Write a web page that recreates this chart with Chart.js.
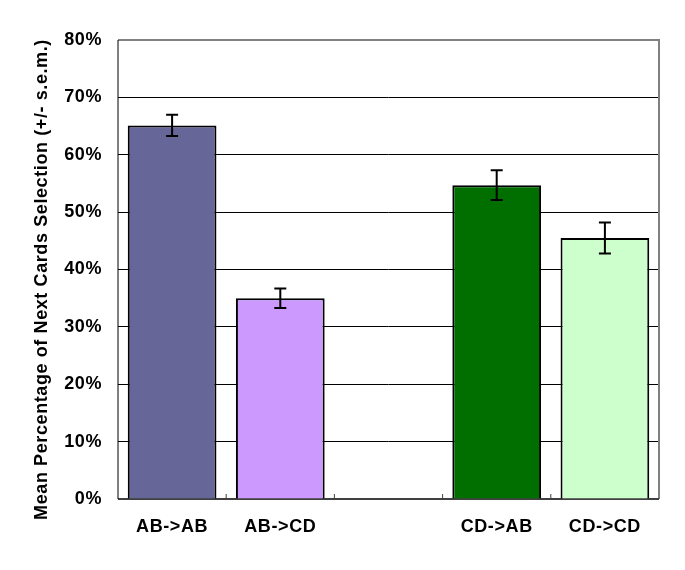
<!DOCTYPE html>
<html>
<head>
<meta charset="utf-8">
<script src="https://cdn.jsdelivr.net/npm/chart.js@4"></script>
<style>
  body { margin: 0; background: #fff; }
  #wrap { width: 685px; height: 570px; }
</style>
</head>
<body>
<div id="wrap"><canvas id="chart" width="685" height="570"></canvas></div>
<script>
// 数据
const categories = ['AB->AB', 'AB->CD', '', 'CD->AB', 'CD->CD'];
const meanValues = [65.1, 35, null, 54.7, 45.5];
const semValues = [1.85, 1.7, null, 2.6, 2.7];
const barColors = ['#666699', '#CC99FF', '#ffffff', '#006F00', '#CCFFCC'];
const yTicks = [0, 10, 20, 30, 40, 50, 60, 70, 80];
const yTitle = 'Mean Percentage of Next Cards Selection (+/- s.e.m.)';

const fontFamily = 'Liberation Sans, Arial, sans-serif';

// 字距（模仿原图较宽的字体）
const spacing = {
    id: 'spacing',
    beforeDraw(chart) { chart.ctx.letterSpacing = '0.6px'; }
};

// 纵轴标题
const yTitlePlugin = {
    id: 'yTitle',
    afterDraw(chart) {
        const ctx = chart.ctx;
        const a = chart.chartArea;
        ctx.save();
        ctx.translate(42, (a.top + a.bottom) / 2 + 10);
        ctx.rotate(-Math.PI / 2);
        ctx.font = 'bold 18px ' + fontFamily;
        ctx.fillStyle = '#000';
        ctx.textAlign = 'center';
        ctx.textBaseline = 'middle';
        ctx.fillText(yTitle, 0, 0);
        ctx.restore();
    }
};

// 误差线
const errorBars = {
    id: 'errorBars',
    afterDatasetsDraw(chart) {
        const ctx = chart.ctx;
        const meta = chart.getDatasetMeta(0);
        const y = chart.scales.y;
        ctx.save();
        ctx.strokeStyle = '#000';
        ctx.lineWidth = 2;
        meta.data.forEach((bar, i) => {
            if (meanValues[i] == null) return;
            const top = y.getPixelForValue(meanValues[i] + semValues[i]);
            const bottom = y.getPixelForValue(meanValues[i] - semValues[i]);
            const x = bar.x;
            ctx.beginPath();
            ctx.moveTo(x, top); ctx.lineTo(x, bottom);
            ctx.moveTo(x - 6, top); ctx.lineTo(x + 6, top);
            ctx.moveTo(x - 6, bottom); ctx.lineTo(x + 6, bottom);
            ctx.stroke();
        });
        ctx.restore();
    }
};

// 绘图区边框
const plotFrame = {
    id: 'plotFrame',
    beforeDatasetsDraw(chart) {
        const { ctx, chartArea: a } = chart;
        ctx.save();
        ctx.strokeStyle = '#808080';
        ctx.lineWidth = 2;
        ctx.beginPath();
        ctx.moveTo(a.left, a.top);
        ctx.lineTo(a.right, a.top);
        ctx.lineTo(a.right, a.bottom);
        ctx.stroke();
        ctx.strokeStyle = '#404040';
        ctx.beginPath();
        ctx.moveTo(a.left, a.bottom);
        ctx.lineTo(a.right, a.bottom);
        ctx.stroke();
        // 类别间的小刻度
        const x = chart.scales.x;
        ctx.lineWidth = 1;
        for (let i = 1; i < categories.length; i++) {
            const px = (x.getPixelForValue(i - 1) + x.getPixelForValue(i)) / 2;
            ctx.beginPath();
            ctx.moveTo(px, a.bottom);
            ctx.lineTo(px, a.bottom - 5);
            ctx.stroke();
        }
        ctx.strokeStyle = '#000';
        ctx.beginPath();
        ctx.moveTo(a.left, a.top);
        ctx.lineTo(a.left, a.bottom);
        ctx.stroke();
        ctx.restore();
    }
};

new Chart(document.getElementById('chart'), {
    type: 'bar',
    data: {
        labels: categories,
        datasets: [{
            data: meanValues,
            backgroundColor: barColors,
            borderColor: '#000',
            borderWidth: 2,
            categoryPercentage: 1,
            barPercentage: 0.82
        }]
    },
    options: {
        responsive: false,
        animation: false,
        layout: { padding: { top: 40, right: 26, left: 0, bottom: 0 } },
        plugins: {
            legend: { display: false },
            tooltip: { enabled: false }
        },
        scales: {
            x: {
                grid: { display: false, drawTicks: false },
                border: { display: false },
                ticks: {
                    color: '#000',
                    padding: 17,
                    font: { family: fontFamily, size: 18, weight: 'bold' }
                },
                afterFit(scale) { scale.height = 71; }
            },
            y: {
                min: 0,
                max: 80,
                afterBuildTicks(scale) { scale.ticks = yTicks.map(v => ({ value: v })); },
                grid: { color: '#000', lineWidth: 1, drawTicks: false },
                border: { display: false },
                ticks: {
                    color: '#000',
                    padding: 16,
                    font: { family: fontFamily, size: 18, weight: 'bold' },
                    callback: v => v + '%'
                },
                afterFit(scale) { scale.width = 118; }
            }
        }
    },
    plugins: [spacing, plotFrame, errorBars, yTitlePlugin]
});
</script>
</body>
</html>
